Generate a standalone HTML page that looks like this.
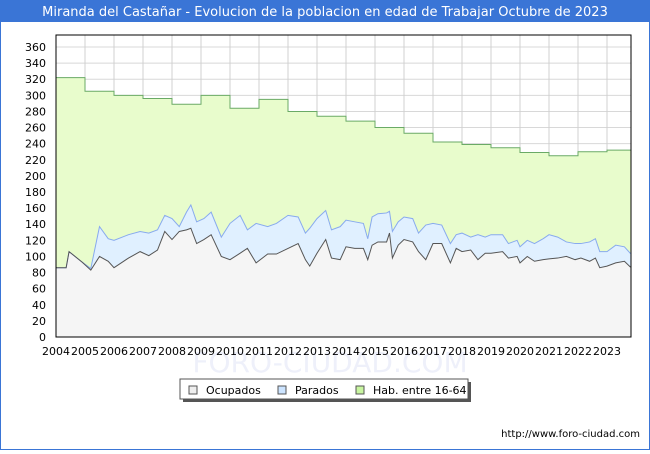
<!DOCTYPE html>
<html><head><meta charset="utf-8"><style>
body{margin:0;width:650px;height:450px;overflow:hidden;background:#fff;font-family:"DejaVu Sans","Liberation Sans",sans-serif}
</style></head><body>
<svg width="650" height="450" xmlns="http://www.w3.org/2000/svg">
<rect x="0.5" y="0.5" width="649" height="449" fill="#fff" stroke="#3a75d6"/>
<rect x="0" y="0" width="650" height="22" fill="#3a75d6"/>
<text x="325" y="16" text-anchor="middle" fill="#fff" font-size="13">Miranda del Castañar - Evolucion de la poblacion en edad de Trabajar Octubre de 2023</text>
<text x="330" y="372" text-anchor="middle" fill="#eef0fa" font-size="28">FORO-CIUDAD.COM</text>
<g id="plot"></g>
<g>
<rect x="183" y="382" width="288" height="20" fill="#555"/>
<rect x="180" y="379" width="288" height="20" fill="#fff" stroke="#555"/>
<rect x="189" y="386" width="8" height="8" fill="#eeeeee" stroke="#555"/>
<text x="206" y="394" font-size="11">Ocupados</text>
<rect x="278" y="386" width="8" height="8" fill="#cce4ff" stroke="#555"/>
<text x="295" y="394" font-size="11">Parados</text>
<rect x="356" y="386" width="8" height="8" fill="#c8f5a0" stroke="#555"/>
<text x="373" y="394" font-size="11">Hab. entre 16-64</text>
</g>
<text x="640" y="437" text-anchor="end" font-size="10" fill="#000">http://www.foro-ciudad.com</text>
</svg>
<script>
const habYears=[2004,2005,2006,2007,2008,2009,2010,2011,2012,2013,2014,2015,2016,2017,2018,2019,2020,2021,2022,2023];
const habValues=[322,305,300,296,289,300,284,295,280,274,268,260,253,242,239,235,229,225,230,232];
const times=[2004.0,2004.35,2004.45,2004.9,2005.2,2005.5,2005.8,2006.0,2006.5,2006.9,2007.2,2007.5,2007.75,2008.0,2008.25,2008.5,2008.65,2008.85,2009.1,2009.35,2009.7,2010.0,2010.35,2010.6,2010.9,2011.3,2011.6,2012.0,2012.35,2012.6,2012.75,2013.0,2013.3,2013.5,2013.8,2014.0,2014.3,2014.6,2014.75,2014.9,2015.1,2015.4,2015.5,2015.6,2015.8,2016.0,2016.3,2016.5,2016.75,2017.0,2017.3,2017.6,2017.8,2018.0,2018.3,2018.55,2018.8,2019.0,2019.4,2019.6,2019.9,2020.0,2020.25,2020.5,2020.8,2021.0,2021.3,2021.6,2021.9,2022.1,2022.4,2022.6,2022.75,2023.0,2023.3,2023.6,2023.8];
const ocupados=[86,86,106,93,83,100,94,86,98,106,101,108,131,121,131,133,135,116,121,127,100,96,104,110,92,103,103,110,116,96,88,104,121,98,96,112,110,110,96,114,118,118,129,98,114,121,118,106,96,116,116,92,110,106,108,96,104,104,106,98,100,92,100,94,96,97,98,100,96,98,94,98,86,88,92,94,87];
const parados=[0,0,0,0,2,37,28,34,29,25,28,25,20,26,6,22,29,27,26,28,24,45,47,23,49,34,38,41,33,33,47,43,36,35,41,33,33,31,26,35,35,36,27,33,29,28,29,23,43,25,23,24,17,23,16,31,20,23,21,18,20,20,20,22,26,30,26,18,20,18,24,24,20,18,22,18,17];
const yTicks=[0,20,40,60,80,100,120,140,160,180,200,220,240,260,280,300,320,340,360];
const xTicks=[2004,2005,2006,2007,2008,2009,2010,2011,2012,2013,2014,2015,2016,2017,2018,2019,2020,2021,2022,2023];
const L=56,R=631,T=35,B=337,tEnd=2023.83;
const X=t=>L+(t-2004)*29.0;
const Y=v=>B-v*(290/360);
const NS='http://www.w3.org/2000/svg';
const g=document.getElementById('plot');
function mk(tag,attrs){const e=document.createElementNS(NS,tag);for(const k in attrs)e.setAttribute(k,attrs[k]);g.appendChild(e);return e;}
mk('rect',{x:L,y:T,width:R-L,height:B-T,fill:'#fff'});
// grid
yTicks.forEach(v=>{const l=mk('line',{x1:L,x2:R,y1:Y(v),y2:Y(v),stroke:'#d8d8d8'});


const t=mk('text',{x:L-10,y:Y(v)+4,'text-anchor':'end','font-size':'11',fill:'#000'});t.textContent=v;

});
xTicks.forEach(yr=>{const l=mk('line',{x1:X(yr),x2:X(yr),y1:T,y2:B,stroke:'#d0d0d0'});


const t=mk('text',{x:X(yr),y:B+18,'text-anchor':'middle','font-size':'11',fill:'#000'});t.textContent=yr;

});
// hab stepped
let hp=[];habYears.forEach((yr,i)=>{const x1=X(yr),x2=i<habYears.length-1?X(habYears[i+1]):X(tEnd);hp.push([x1,Y(habValues[i])],[x2,Y(habValues[i])]);});
const habLine='M'+hp.map(p=>p.join(',')).join('L');
const ha=mk('path',{d:habLine+`L${X(tEnd)},${B}L${L},${B}Z`,fill:'#e8fccc'});


const hl=mk('path',{d:habLine,fill:'none',stroke:'#6aaa66','stroke-width':'1'});


// totals
const tot=ocupados.map((o,i)=>o+parados[i]);
const pts=(arr)=>times.map((t,i)=>[X(t),Y(arr[i])]).concat([[X(tEnd),Y(arr[arr.length-1])]]);
const tp=pts(tot),op=pts(ocupados);
const lineD=p=>'M'+p.map(q=>q.join(',')).join('L');
const pa=mk('path',{d:lineD(tp)+'L'+op.slice().reverse().map(q=>q.join(',')).join('L')+'Z',fill:'#e0f0ff'});


const oa=mk('path',{d:lineD(op)+`L${X(tEnd)},${B}L${L},${B}Z`,fill:'#f5f5f5'});


const pl=mk('path',{d:lineD(tp),fill:'none',stroke:'#88aaee','stroke-width':'1'});


const ol=mk('path',{d:lineD(op),fill:'none',stroke:'#555','stroke-width':'1'});


const bx=mk('rect',{x:L,y:T,width:R-L,height:B-T,fill:'none',stroke:'#000'});


</script>
</body></html>
